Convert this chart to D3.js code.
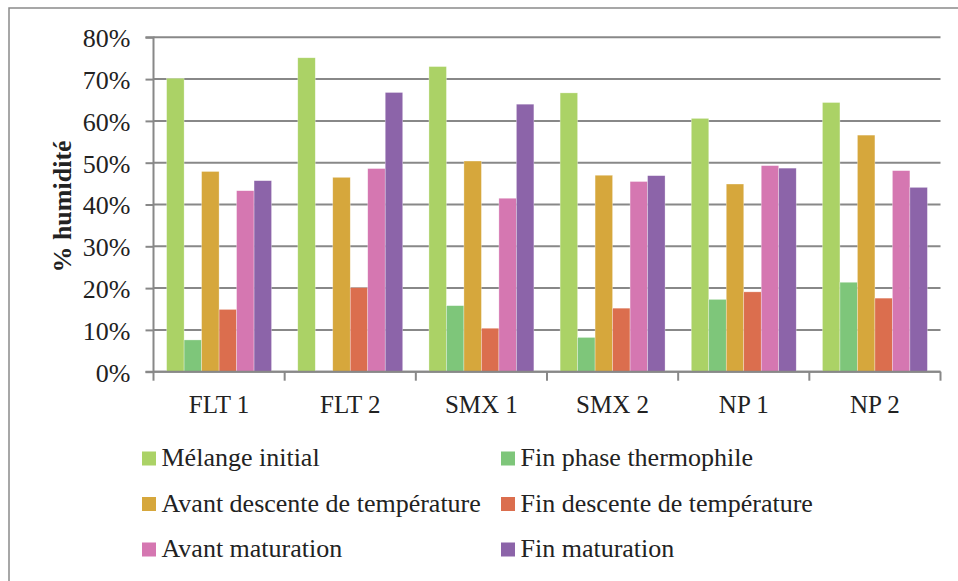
<!DOCTYPE html>
<html><head><meta charset="utf-8">
<script src="https://cdn.jsdelivr.net/npm/d3@7"></script>
<style>
html,body{margin:0;padding:0;background:#fff;}
svg{display:block;}
svg text{font-family:"Liberation Serif","Times New Roman",serif !important;fill:#222;}
</style></head>
<body>
<svg id="chart" width="958" height="581"></svg>
<script>
const categories = ["FLT 1","FLT 2","SMX 1","SMX 2","NP 1","NP 2"];
const seriesNames = ["Mélange initial","Fin phase thermophile","Avant descente de température","Fin descente de température","Avant maturation","Fin maturation"];
const seriesColors = ["#abd266","#7ec67a","#d6a73c","#db6e4e","#d577b1","#8c64a9"];
const melangeInitial   = [70.2, 75.1, 73.0, 66.7, 60.6, 64.4];
const finThermophile   = [7.6, 0, 15.8, 8.2, 17.3, 21.4];
const avantDescente    = [47.9, 46.5, 50.4, 47.0, 44.9, 56.6];
const finDescente      = [14.9, 20.1, 10.4, 15.2, 19.1, 17.6];
const avantMaturation  = [43.3, 48.6, 41.5, 45.5, 49.3, 48.1];
const finMaturation    = [45.7, 66.8, 64.0, 46.9, 48.7, 44.1];
const yTicks = [0,10,20,30,40,50,60,70,80];
const yTitle = "% humidité";

const seriesValues = [melangeInitial, finThermophile, avantDescente, finDescente, avantMaturation, finMaturation];
const SERIF = "Liberation Serif, Times New Roman, serif";

(function(){
const svg = d3.select("#chart").attr("font-family",SERIF);
// outer frame
svg.append("rect").attr("x",9).attr("y",8).attr("width",1100).attr("height",1100)
  .attr("fill","none").attr("stroke","#8a8a8a").attr("stroke-width",1.5);

const pLeft = 153.5, pRight = 940.5, pTop = 37.3, pBottom = 371.7;
const x = d3.scaleBand().domain(categories).range([pLeft,pRight]).padding(0);
const xi = d3.scaleBand().domain(d3.range(seriesNames.length)).range([0,x.bandwidth()]).paddingInner(0).paddingOuter(0.75);
const y = d3.scaleLinear().domain([0,80]).range([pBottom,pTop]);

// grid
svg.append("g").selectAll("line").data(yTicks).join("line")
  .attr("x1",pLeft).attr("x2",pRight).attr("y1",d=>y(d)).attr("y2",d=>y(d))
  .attr("stroke","#888").attr("stroke-width",2);

// bars
const groups = svg.append("g").selectAll("g").data(categories).join("g")
  .attr("transform",c=>`translate(${x(c)},0)`);
groups.selectAll("rect").data((c,ci)=>seriesValues.map((vals,si)=>({si,v:vals[ci]}))).join("rect")
  .attr("x",d=>xi(d.si)).attr("width",xi.bandwidth())
  .attr("y",d=>y(d.v)).attr("height",d=>y(0)-y(d.v))
  .attr("fill",d=>seriesColors[d.si])
  .attr("stroke",d=>d.v>0?"rgba(255,255,255,0.5)":"none").attr("stroke-width",0.6);

// y axis
const yAxis = svg.append("g").attr("transform",`translate(${pLeft},0)`)
  .call(d3.axisLeft(y).tickValues(yTicks).tickFormat(d=>d+"%").tickSize(8).tickPadding(15));
yAxis.attr("font-family",SERIF).attr("font-size",26);
yAxis.select(".domain").attr("stroke","#888").attr("stroke-width",2).attr("d",`M-8,${pTop}H0V${pBottom}H-8`);
yAxis.selectAll(".tick line").attr("stroke","#888").attr("stroke-width",2);
yAxis.selectAll(".tick text").attr("font-family",SERIF).attr("font-size",26).attr("fill","#222").attr("dy","0.36em");

// x axis
const xAxis = svg.append("g").attr("transform",`translate(0,${pBottom})`);
xAxis.append("line").attr("x1",pLeft).attr("x2",pRight).attr("stroke","#888").attr("stroke-width",2);
const bounds = categories.map(c=>x(c)).concat([pRight]);
xAxis.selectAll("line.tk").data(bounds).join("line").attr("class","tk")
  .attr("x1",d=>d).attr("x2",d=>d).attr("y1",0).attr("y2",9).attr("stroke","#888").attr("stroke-width",2);
xAxis.selectAll("text").data(categories).join("text")
  .attr("x",c=>x(c)+x.bandwidth()/2).attr("y",41).attr("text-anchor","middle")
  .attr("font-family",SERIF).attr("font-size",25).text(c=>c);

// y title
svg.append("text").attr("transform","translate(71,206.5) rotate(-90)")
  .attr("text-anchor","middle").attr("font-family",SERIF).attr("font-size",26).attr("font-weight","bold").text(yTitle);

// legend
const legCols = [142, 501];
const legRows = [466, 511.5, 557];
const leg = svg.append("g").selectAll("g").data(seriesNames).join("g")
  .attr("transform",(d,i)=>`translate(${legCols[i%2]},${legRows[Math.floor(i/2)]})`);
leg.append("rect").attr("x",0).attr("y",-14.5).attr("width",14).attr("height",14).attr("fill",(d,i)=>seriesColors[i]);
leg.append("text").attr("x",19.5).attr("y",0).attr("font-family",SERIF).attr("font-size",26).text(d=>d);
})();
</script>
</body></html>
